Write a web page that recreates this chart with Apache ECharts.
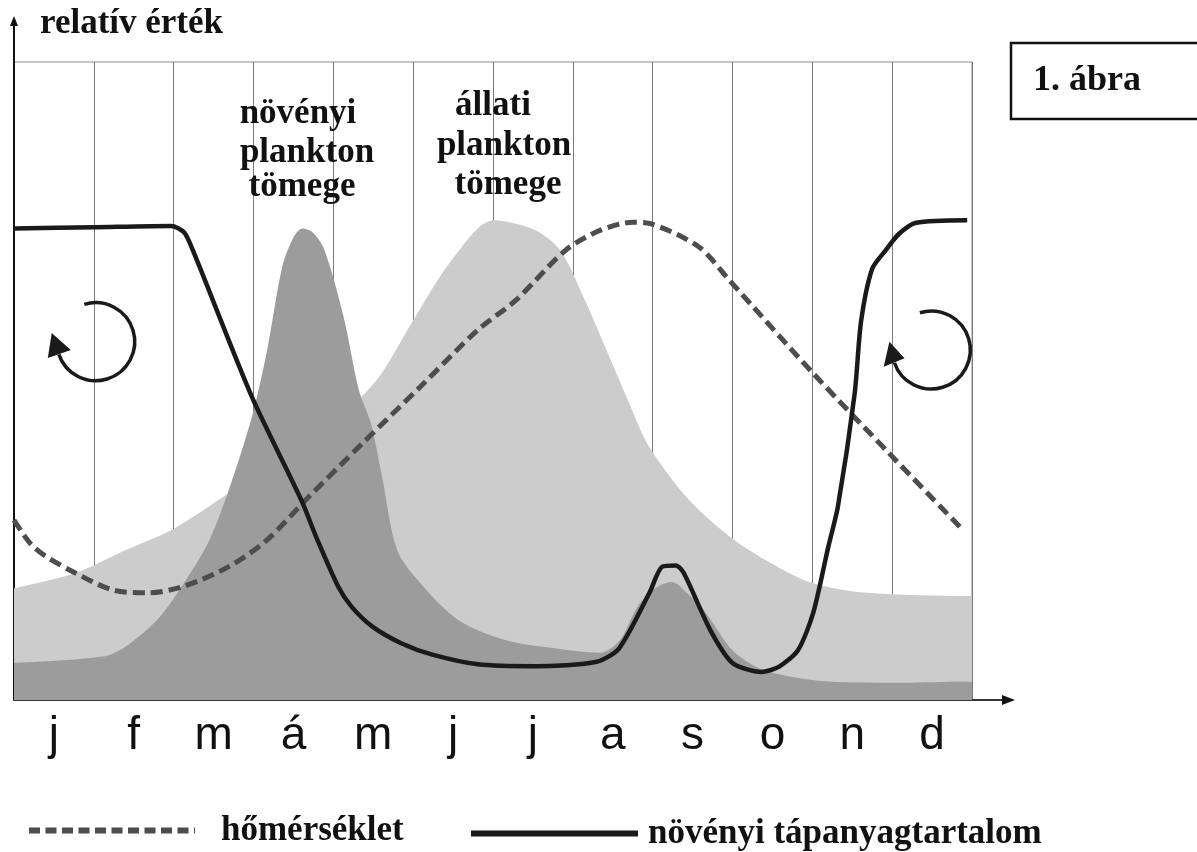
<!DOCTYPE html>
<html>
<head>
<meta charset="utf-8">
<script src="https://cdn.jsdelivr.net/npm/echarts@6/dist/echarts.min.js"></script>
<style>
  html, body { margin: 0; padding: 0; background: #fff; }
  #chart { width: 1197px; height: 852px; }
</style>
</head>
<body>
<div id="chart"></div>
<script>
// hónapok
const months = ['j', 'f', 'm', 'á', 'm', 'j', 'j', 'a', 's', 'o', 'n', 'd'];

// állati plankton tömege (világos szürke terület)
const zooMonth = [0, 0.77, 1.40, 2.01, 2.69, 3.58, 4.35, 4.62, 4.99, 5.48, 6.01, 6.52, 6.84, 7.15, 7.42, 7.69, 7.96, 8.46, 9.03, 9.59, 10.01, 10.68, 11.96, 12];
const zooMass  = [17.5, 19.9, 23.5, 26.9, 32.4, 39.2, 47.5, 51.5, 59.3, 68.9, 75.2, 73.7, 70.5, 62.7, 54.9, 47.0, 39.6, 31.3, 25.0, 20.7, 18.3, 16.8, 16.3, 16.3];

// növényi plankton tömege (sötét szürke terület)
const phytoMonth = [0, 1.11, 1.40, 1.83, 2.21, 2.45, 2.69, 2.98, 3.17, 3.36, 3.50, 3.61, 3.74, 3.89, 4.13, 4.32, 4.47, 4.61, 4.80, 5.09, 5.57, 6.15, 6.77, 7.34, 7.59, 7.81, 8.03, 8.24, 8.46, 8.67, 9.00, 9.39, 10.20, 11.15, 11.91, 12];
const phytoMass  = [5.8, 6.8, 8.4, 13.1, 19.9, 25.1, 32.9, 44.4, 54.8, 67.9, 72.5, 73.9, 73.3, 70.5, 60.0, 48.6, 43.4, 35.0, 23.5, 18.3, 12.5, 9.4, 8.1, 7.4, 9.4, 14.6, 17.5, 18.5, 16.4, 13.6, 7.8, 4.7, 2.9, 2.7, 2.9, 2.8];

// hőmérséklet (szaggatott vonal)
const tempMonth = [0, 0.20, 0.39, 0.77, 1.25, 1.68, 2.12, 2.69, 3.17, 3.65, 4.37, 5.09, 5.81, 6.29, 6.91, 7.34, 7.76, 7.96, 8.58, 8.96, 10.01, 10.96, 11.89];
const tempLevel = [28.2, 24.6, 22.6, 19.9, 17.2, 16.8, 17.8, 20.9, 25.1, 31.3, 40.3, 49.1, 58.0, 62.7, 70.5, 73.6, 74.9, 74.7, 71.0, 65.8, 51.2, 38.7, 26.6];

// növényi tápanyagtartalom (folytonos vonal)
const nutrientMonth = [0, 1.01, 1.97, 2.13, 2.24, 2.98, 3.60, 3.80, 4.06, 4.23, 4.49, 4.85, 5.24, 5.81, 6.53, 7.30, 7.58, 7.96, 8.12, 8.29, 8.39, 8.72, 9.00, 9.36, 9.58, 9.82, 10.01, 10.20, 10.32, 10.53, 10.61, 10.75, 10.92, 11.08, 11.30, 11.94];
const nutrientLevel = [73.9, 74.1, 74.3, 73.3, 70.5, 47.5, 31.3, 25.1, 17.8, 14.6, 11.5, 8.9, 7.1, 5.6, 5.3, 6.0, 8.1, 16.8, 20.9, 21.1, 19.9, 11.0, 5.8, 4.4, 5.2, 7.8, 13.6, 24.0, 30.3, 48.0, 59.3, 67.6, 70.5, 73.0, 74.8, 75.2];

const zip = (xs, ys) => xs.map((x, i) => [x, ys[i]]);

const chart = echarts.init(document.getElementById('chart'));

const SERIF = '"Liberation Serif", "Times New Roman", serif';
const INK = '#111';

// felirat segédfüggvény
const label = (text, x, y, size, align) => ({
    type: 'text',
    x: x,
    y: y,
    style: {
        text: text,
        fill: INK,
        fontFamily: SERIF,
        fontWeight: 'bold',
        fontSize: size,
        align: align || 'center',
        verticalAlign: 'middle'
    },
    z: 100
});

// körkörös nyíl (keveredés jele)
const swirl = (cx, cy, tip, b1, b2) => [
    {
        type: 'arc',
        shape: { cx: cx, cy: cy, r: 39, startAngle: 253 * Math.PI / 180, endAngle: 161 * Math.PI / 180, clockwise: true },
        style: { stroke: '#1a1a1a', lineWidth: 3.5, fill: null },
        z: 100
    },
    {
        type: 'polygon',
        shape: { points: [tip, b1, b2] },
        style: { fill: '#1a1a1a' },
        z: 100
    }
];

const legendText = (pad) => ({
    fontFamily: SERIF, fontWeight: 'bold', fontSize: 35, color: INK, padding: [0, 0, 0, pad]
});

const option = {
    animation: false,
    backgroundColor: '#fff',
    grid: {
        left: 14,
        right: 225,
        top: 62,
        bottom: 152,
        show: true,
        borderColor: '#8a8a8a',
        borderWidth: 1,
        backgroundColor: 'transparent'
    },
    xAxis: [
        {
            type: 'category',
            data: months,
            boundaryGap: true,
            axisLine: { lineStyle: { color: '#333', width: 2 } },
            axisTick: { show: false },
            axisLabel: {
                margin: 13,
                fontFamily: '"Liberation Sans", Arial, sans-serif',
                fontSize: 46,
                color: INK
            },
            splitLine: { show: true, lineStyle: { color: '#7a7a7a', width: 1 } }
        },
        {
            type: 'value',
            min: 0,
            max: 12,
            show: false
        }
    ],
    yAxis: {
        type: 'value',
        min: 0,
        max: 100,
        axisLine: { show: true, lineStyle: { color: '#111', width: 2 } },
        axisTick: { show: false },
        axisLabel: { show: false },
        splitLine: { show: false }
    },
    legend: [
        {
            data: ['hőmérséklet'],
            left: 21,
            top: 808,
            itemWidth: 166,
            itemHeight: 14,
            selectedMode: false,
            itemStyle: { opacity: 0 },
            lineStyle: { width: 6, type: [11, 5.5], color: '#4d4d4d' },
            textStyle: legendText(21)
        },
        {
            data: ['növényi tápanyagtartalom'],
            left: 463,
            top: 811,
            itemWidth: 167,
            itemHeight: 14,
            selectedMode: false,
            itemStyle: { opacity: 0 },
            lineStyle: { width: 6, color: '#1a1a1a' },
            textStyle: legendText(5)
        }
    ],
    series: [
        {
            name: 'állati plankton tömege',
            type: 'line',
            xAxisIndex: 1,
            data: zip(zooMonth, zooMass),
            smooth: 0.3,
            symbol: 'none',
            lineStyle: { width: 0 },
            areaStyle: { color: '#cccccc', opacity: 1 },
            z: 2
        },
        {
            name: 'növényi plankton tömege',
            type: 'line',
            xAxisIndex: 1,
            data: zip(phytoMonth, phytoMass),
            smooth: 0.3,
            symbol: 'none',
            lineStyle: { width: 0 },
            areaStyle: { color: '#9c9c9c', opacity: 1 },
            z: 3
        },
        {
            name: 'hőmérséklet',
            type: 'line',
            xAxisIndex: 1,
            data: zip(tempMonth, tempLevel),
            smooth: 0.3,
            symbol: 'none',
            lineStyle: { color: '#4d4d4d', width: 5, type: [12, 6] },
            z: 4
        },
        {
            name: 'növényi tápanyagtartalom',
            type: 'line',
            xAxisIndex: 1,
            data: zip(nutrientMonth, nutrientLevel),
            smooth: 0.25,
            symbol: 'none',
            lineStyle: { color: '#1a1a1a', width: 4.5 },
            z: 5
        }
    ],
    graphic: [
        // tengely nyilak
        { type: 'line', shape: { x1: 14, y1: 62, x2: 14, y2: 24 }, style: { stroke: '#111', lineWidth: 2 }, z: 100 },
        { type: 'polygon', shape: { points: [[14, 16], [10, 26], [18, 26]] }, style: { fill: '#111' }, z: 100 },
        { type: 'line', shape: { x1: 972, y1: 700, x2: 1004, y2: 700 }, style: { stroke: '#333', lineWidth: 2 }, z: 100 },
        { type: 'polygon', shape: { points: [[1015, 700], [1002, 695], [1002, 705]] }, style: { fill: '#111' }, z: 100 },
        // ábra felirat doboz
        { type: 'rect', shape: { x: 1011, y: 43, width: 220, height: 76 }, style: { stroke: '#111', lineWidth: 2.5, fill: '#fff' }, z: 99 },
        label('1. ábra', 1033, 81, 36, 'left'),
        label('relatív érték', 40, 24, 35, 'left'),
        label('növényi', 298, 114, 35),
        label('plankton', 307, 153, 35),
        label('tömege', 302, 187, 35),
        label('állati', 493, 106, 35),
        label('plankton', 504, 146, 35),
        label('tömege', 508, 185, 35)
    ]
        .concat(swirl(95.7, 341.7, [51.7, 333], [47.8, 358], [70.8, 350]))
        .concat(swirl(931.3, 350, [889.4, 341.7], [883.7, 366.7], [904.6, 358.3]))
};

chart.setOption(option);
</script>
</body>
</html>
